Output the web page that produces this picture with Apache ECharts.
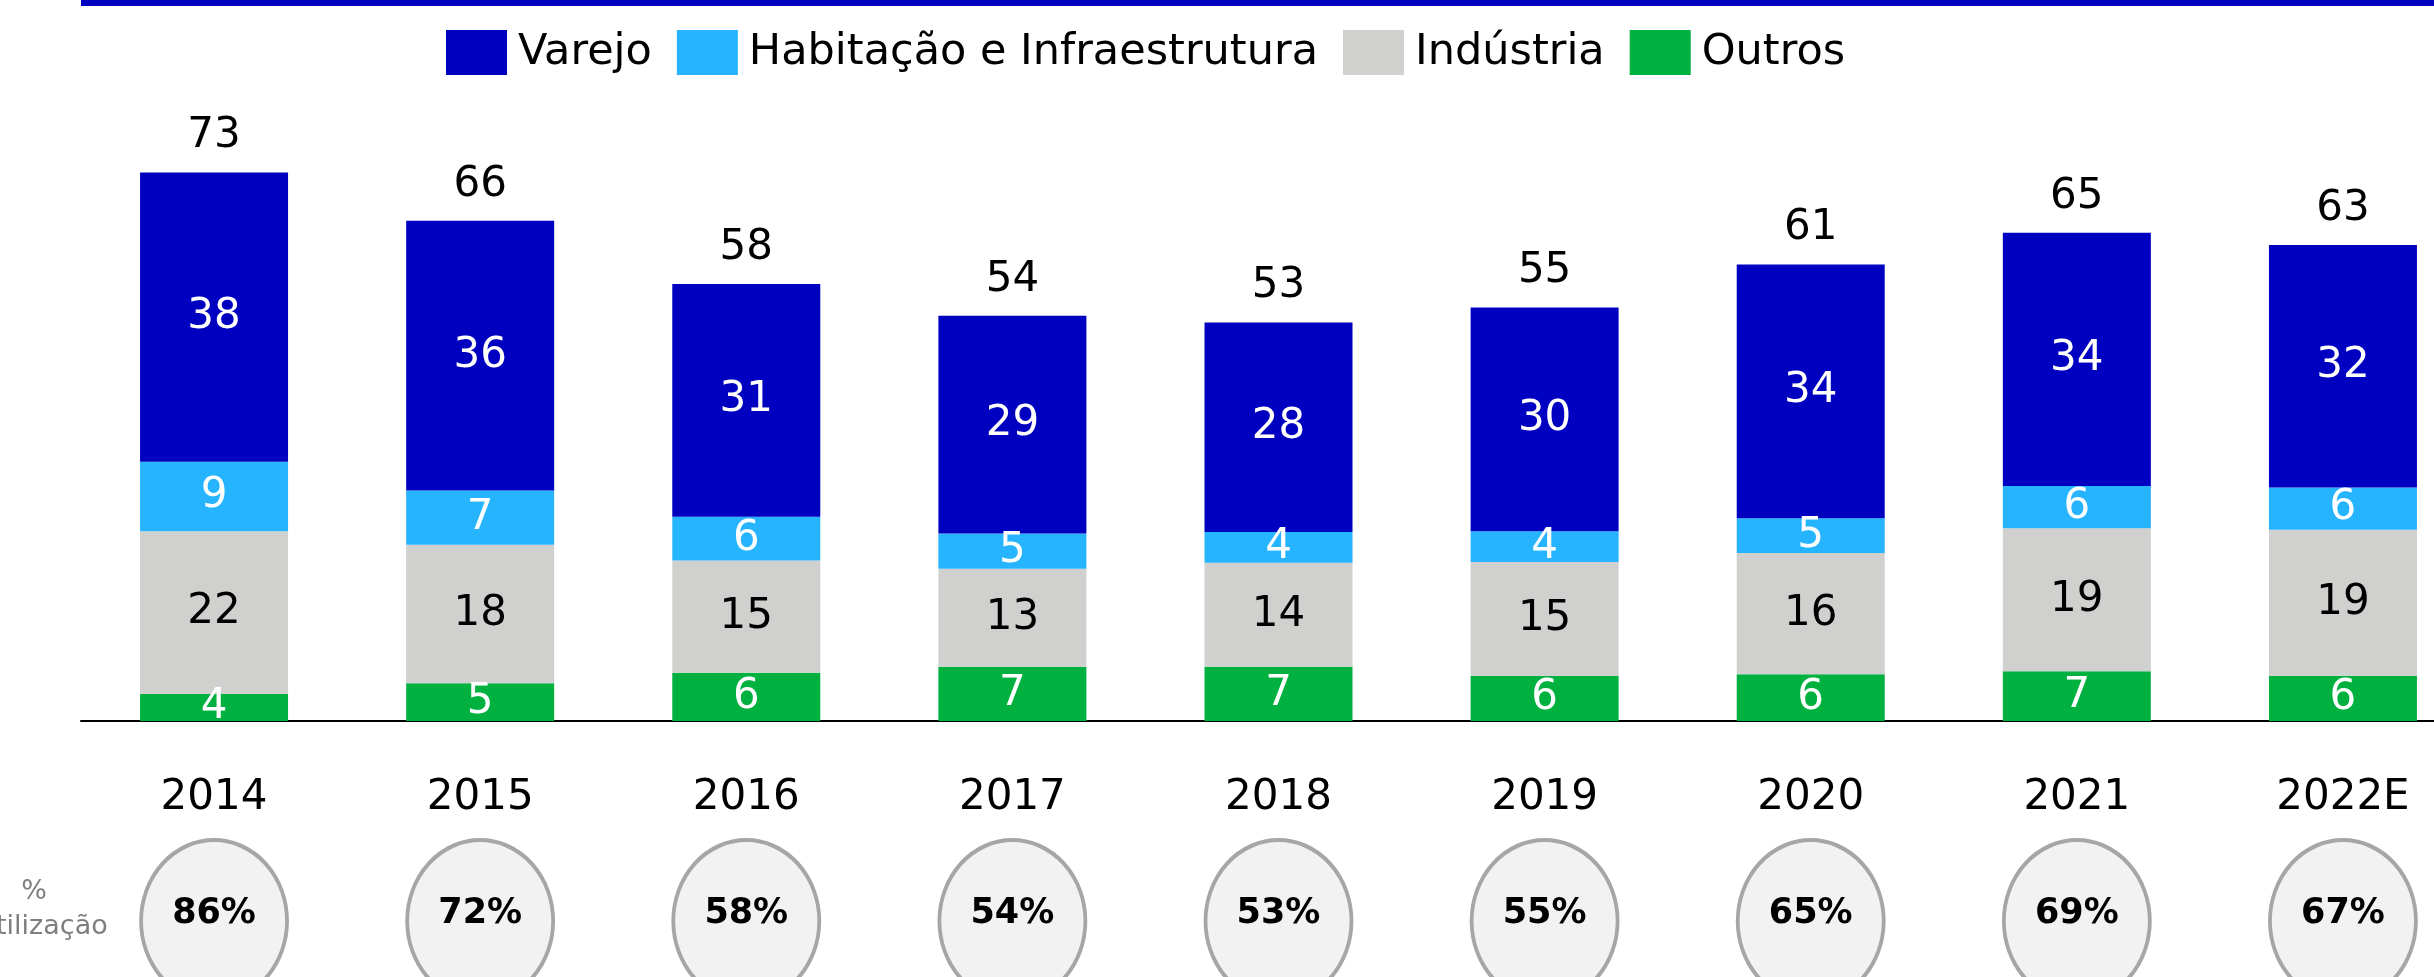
<!DOCTYPE html>
<html>
<head>
<meta charset="utf-8">
<script src="https://cdn.jsdelivr.net/npm/echarts@6/dist/echarts.min.js"></script>
<style>
html,body{margin:0;padding:0;background:#fff;}
#chart{width:2434px;height:977px;}
</style>
</head>
<body>
<div id="chart"></div>
<script>
// ---- data ----
const years = ['2014', '2015', '2016', '2017', '2018', '2019', '2020', '2021', '2022E'];
const outros = [3.6, 5.0, 6.4, 7.2, 7.2, 6.0, 6.2, 6.6, 6.0];
const industria = [21.6, 18.4, 14.9, 13.0, 13.8, 15.1, 16.1, 19.0, 19.4];
const habitacao = [9.2, 7.2, 5.8, 4.7, 4.1, 4.1, 4.6, 5.6, 5.6];
const varejo = [38.4, 35.8, 30.9, 28.9, 27.8, 29.7, 33.7, 33.6, 32.2];
const totais = [73, 66, 58, 54, 53, 55, 61, 65, 63];
const utilizacao = [86, 72, 58, 54, 53, 55, 65, 69, 67];
const seriesNames = ['Varejo', 'Habitação e Infraestrutura', 'Indústria', 'Outros'];

const FONT = 'DejaVu Sans';
const chart = echarts.init(document.getElementById('chart'));

function segLabel(color) {
  return {
    show: true, position: 'inside', color: color, fontSize: 42, fontFamily: FONT,
    formatter: p => String(Math.round(p.value))
  };
}

const option = {
  animation: false,
  backgroundColor: '#ffffff',
  legend: {
    data: seriesNames,
    left: 441, top: 25,
    itemWidth: 61, itemHeight: 45, itemGap: 25,
    icon: 'rect',
    textStyle: { fontSize: 43, fontFamily: FONT, color: '#000', padding: [0, 0, 0, 6] },
    selectedMode: false
  },
  grid: [
    { left: 81, top: 43, width: 2395, height: 678, outerBoundsMode: 'none', containLabel: false },
    { left: 81, top: 839, width: 2395, height: 164, outerBoundsMode: 'none', containLabel: false }
  ],
  xAxis: [
    {
      type: 'category', data: years, gridIndex: 0,
      axisLine: { lineStyle: { color: '#000', width: 2 } },
      axisTick: { show: false },
      axisLabel: { fontSize: 42, fontFamily: FONT, color: '#000', margin: 56 }
    },
    {
      type: 'category', data: years, gridIndex: 1, show: false
    }
  ],
  yAxis: [
    { type: 'value', min: 0, max: 90, gridIndex: 0, show: false, splitLine: { show: false } },
    { type: 'value', min: -1, max: 1, gridIndex: 1, show: false, splitLine: { show: false } }
  ],
  series: [
    { name: 'Outros', type: 'bar', stack: 'a', barWidth: 148, data: outros,
      itemStyle: { color: '#00B140' }, label: segLabel('#fff') },
    { name: 'Indústria', type: 'bar', stack: 'a', barWidth: 148, data: industria,
      itemStyle: { color: '#D0D0CE' }, label: segLabel('#000') },
    { name: 'Habitação e Infraestrutura', type: 'bar', stack: 'a', barWidth: 148, data: habitacao,
      itemStyle: { color: '#27B4FF' }, label: segLabel('#fff') },
    { name: 'Varejo', type: 'bar', stack: 'a', barWidth: 148, data: varejo,
      itemStyle: { color: '#0000C0' }, label: segLabel('#fff') },
    { name: 'Total', type: 'bar', stack: 'a', barWidth: 148, data: totais.map(() => 0),
      itemStyle: { color: 'transparent' },
      label: { show: true, position: 'top', distance: 15, fontSize: 42, fontFamily: FONT, color: '#000',
        formatter: p => String(totais[p.dataIndex]) } },
    { name: 'Utilização', type: 'scatter', xAxisIndex: 1, yAxisIndex: 1,
      data: utilizacao.map((u, i) => [years[i], 0, u]),
      encode: { x: 0, y: 1 },
      symbol: 'circle', symbolSize: [146, 162],
      itemStyle: { color: '#F2F2F2', borderColor: '#A6A6A6', borderWidth: 4, opacity: 1 },
      label: { show: true, position: 'inside', offset: [0, -7], fontSize: 35, fontWeight: 'bold',
        fontFamily: FONT, color: '#000', formatter: p => p.value[2] + '%' },
      emphasis: { disabled: true }
    }
  ],
  graphic: [
    { type: 'rect', left: 81, top: 0, shape: { width: 2400, height: 6 }, style: { fill: '#0000C0' } },
    { type: 'text', x: 34, y: 892,
      style: { text: '%', font: '27px "DejaVu Sans"', fill: '#7F7F7F',
        align: 'center', verticalAlign: 'middle' } },
    { type: 'text', x: 42, y: 927,
      style: { text: 'Utilização', font: '27px "DejaVu Sans"', fill: '#7F7F7F',
        align: 'center', verticalAlign: 'middle' } }
  ]
};
chart.setOption(option);
</script>
</body>
</html>
